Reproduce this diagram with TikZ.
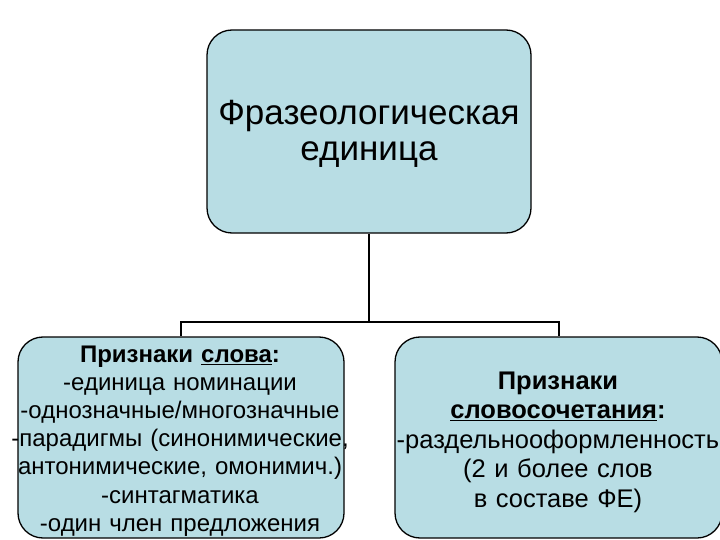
\documentclass[tikz,border=0pt]{standalone}
\usepackage{fontspec}
\setmainfont{Liberation Sans}
\definecolor{boxfill}{RGB}{184,221,228}
\begin{document}
\begin{tikzpicture}[x=1pt,y=-1pt,
  box/.style={draw=black, line width=1.3pt, fill=boxfill, rounded corners=25pt, inner sep=0pt},
  conn/.style={draw=black, line width=2pt},
  txt/.style={inner sep=0pt, align=center, text width=400pt}]
\useasboundingbox (0,0) rectangle (720,540);
\node[box, minimum width=324pt, minimum height=203pt] (top) at (369,131.5) {};
\node[box, minimum width=326pt, minimum height=201pt] (left) at (181,437.5) {};
\node[box, minimum width=327pt, minimum height=201pt] (right) at (558.5,437.5) {};
\node[txt, font=\fontsize{35}{36}\selectfont] (toptxt) at (369,134) {Фразеологическая\\единица};
\node[txt, font=\fontsize{24}{28.2}\selectfont] (lefttxt) at (180,441) {\textbf{Признаки \underline{слова}:}\\-единица номинации\\-однозначные/многозначные\\-парадигмы (синонимические,\\антонимические, омонимич.)\\-синтагматика\\-один член предложения};
\node[txt, font=\fontsize{25.5}{29.5}\selectfont] (righttxt) at (558,442) {\textbf{Признаки}\\\textbf{\underline{словосочетания}:}\\-раздельнооформленность\\(2 и более слов\\в составе ФЕ)};
\coordinate (j) at (369,322);
\draw[conn] (top.south) -- (j);
\draw[conn] (left.north) |- (j) -| (right.north);
\end{tikzpicture}
\end{document}
